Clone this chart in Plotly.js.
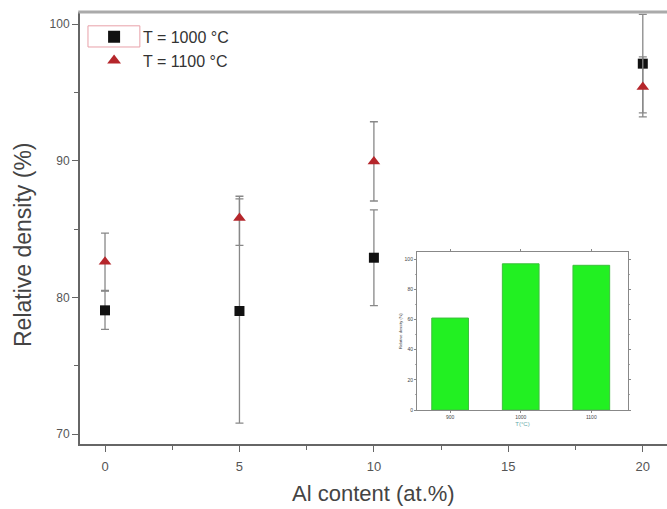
<!DOCTYPE html>
<html><head><meta charset="utf-8">
<script src="https://cdn.plot.ly/plotly-3.0.1.min.js"></script>
<style>html,body{margin:0;padding:0;background:#fff;}#chart{width:667px;height:509px;}</style>
</head><body><div id="chart"></div>
<script>
const alContent = [0, 5, 10, 20];
const dens1000 = [79.05, 79.0, 82.9, 97.1];
const err1000 = [1.4, 8.2, 3.5, 3.6];
const dens1100 = [82.6, 85.8, 89.95, 95.4];
const err1100Plus = [2.1, 1.6, 2.9, 2.2];
const err1100Minus = [2.1, 2.0, 2.9, 2.2];
const insetT = ["900", "1000", "1100"];
const insetDens = [61, 97, 96];

const axColor = '#666';
const traces = [
  {x: alContent, y: dens1000, type: 'scatter', mode: 'markers', name: '\u00a0\u00a0T = 1000 °C',
   marker: {symbol: 'square', size: 10, color: '#111'},
   error_y: {type: 'data', array: err1000, visible: true, color: '#888', thickness: 1.3, width: 4}},
  {x: alContent, y: dens1100, type: 'scatter', mode: 'markers', name: '\u00a0\u00a0T = 1100 °C',
   marker: {symbol: 'triangle-up', size: 11, color: '#b5262b'},
   error_y: {type: 'data', symmetric: false, array: err1100Plus, arrayminus: err1100Minus,
             visible: true, color: '#888', thickness: 1.3, width: 4}},
  {x: insetT, y: insetDens, type: 'bar', xaxis: 'x2', yaxis: 'y2', showlegend: false,
   width: 0.52, marker: {color: '#22f022', line: {color: '#3cc03c', width: 1}}}
];

const layout = {
  width: 667, height: 509,
  margin: {l: 80, r: 0, t: 12, b: 65},
  paper_bgcolor: '#fff', plot_bgcolor: '#fff',
  font: {family: 'Liberation Sans, Arial, sans-serif', color: '#444'},
  showlegend: true,
  legend: {x: 0.024, y: 0.982, xanchor: 'left', yanchor: 'top', bgcolor: 'rgba(0,0,0,0)',
           font: {size: 16, color: '#333'}, tracegroupgap: 0, itemsizing: 'constant'},
  xaxis: {range: [-0.93, 20.9], tickvals: [0, 5, 10, 15, 20], ticks: 'outside', ticklen: 6,
          tickcolor: axColor, showline: true, linecolor: axColor, linewidth: 2, showgrid: false,
          zeroline: false, tickfont: {size: 13, color: '#555'}, ticklabelstandoff: 3,
          minor: {tickvals: [2.5, 7.5, 12.5, 17.5], ticks: 'outside', ticklen: 4, tickcolor: axColor, showgrid: false}},
  yaxis: {range: [69.27, 100.88], tickvals: [70, 80, 90, 100], ticks: 'outside', ticklen: 6,
          tickcolor: axColor, showline: true, linecolor: axColor, linewidth: 2, showgrid: false,
          zeroline: false, tickfont: {size: 12, color: '#555'},
          minor: {tickvals: [75, 85, 95], ticks: 'outside', ticklen: 4, tickcolor: axColor, showgrid: false}},
  xaxis2: {domain: [0.574, 0.9336], anchor: 'y2', type: 'category', range: [-0.47, 2.52],
           showline: true, mirror: 'ticks', linecolor: '#888', linewidth: 1, ticks: 'outside', ticklen: 2,
           tickcolor: '#888', showgrid: false, tickfont: {size: 5, color: '#444'},
           title: {text: 'T(°C)', font: {size: 6, color: '#6aa'}, standoff: 2}},
  yaxis2: {domain: [0.0787, 0.444], anchor: 'x2', range: [0, 104.7], tickvals: [0, 20, 40, 60, 80, 100],
           showline: true, mirror: 'ticks', linecolor: '#888', linewidth: 1, ticks: 'outside', ticklen: 2,
           tickcolor: '#888', showgrid: false, zeroline: false, tickfont: {size: 5, color: '#444'},
           minor: {ticks: 'outside', ticklen: 1, tickcolor: '#aaa', dtick: 10},
           title: {text: 'Relative density (%)', font: {size: 4, color: '#333'}, standoff: 2}},
  annotations: [
    {text: 'Al content (at.%)', xref: 'paper', yref: 'paper', x: (373 - 80) / 587, y: (444 - 493) / 432,
     xanchor: 'center', yanchor: 'middle', showarrow: false, font: {size: 22, color: '#444'}},
    {text: 'Relative density (%)', xref: 'paper', yref: 'paper', x: (23 - 80) / 587, y: (444 - 245) / 432,
     xanchor: 'center', yanchor: 'middle', textangle: -90, showarrow: false, font: {size: 23, color: '#444'}}
  ],
  shapes: [
    {type: 'line', xref: 'paper', yref: 'paper', x0: -0.003, x1: 1, y0: 1, y1: 1,
     line: {color: '#aaa', width: 3}},
    {type: 'rect', xref: 'paper', yref: 'paper', x0: 0.0136, x1: 0.102, y0: 0.919, y1: 0.968,
     line: {color: '#e8a0a8', width: 1}}
  ]
};
Plotly.newPlot('chart', traces, layout, {displayModeBar: false, staticPlot: true});
</script></body></html>
